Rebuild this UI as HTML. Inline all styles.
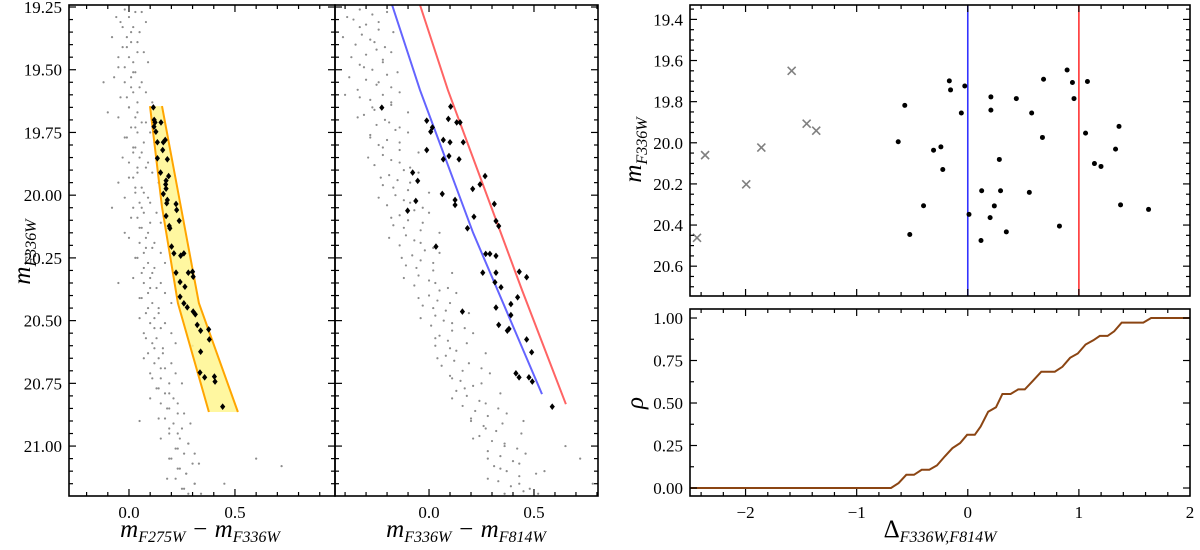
<!DOCTYPE html>
<html><head><meta charset="utf-8"><style>
body{margin:0;background:#fff}
svg{display:block}
svg text{font-family:"Liberation Serif","DejaVu Serif",serif}
</style></head><body>
<svg id="fig" width="1200" height="550" viewBox="0 0 1200 550" xmlns="http://www.w3.org/2000/svg" font-family="Liberation Serif, DejaVu Serif, serif">
<text transform="translate(30,252) rotate(-90)" text-anchor="middle" font-size="25" font-style="italic" font-family="Liberation Serif, serif">m<tspan font-size="16" dy="6">F336W</tspan></text>
<text x="200" y="537" text-anchor="middle" font-size="25" font-style="italic" font-family="Liberation Serif, serif">m<tspan font-size="16" dy="5">F275W</tspan><tspan dy="-5"> − m</tspan><tspan font-size="16" dy="5">F336W</tspan></text>
<text x="466" y="537" text-anchor="middle" font-size="25" font-style="italic" font-family="Liberation Serif, serif">m<tspan font-size="16" dy="5">F336W</tspan><tspan dy="-5"> − m</tspan><tspan font-size="16" dy="5">F814W</tspan></text>
<text transform="translate(641,150) rotate(-90)" text-anchor="middle" font-size="25" font-style="italic" font-family="Liberation Serif, serif">m<tspan font-size="16" dy="6">F336W</tspan></text>
<text transform="translate(643,403) rotate(-90)" text-anchor="middle" font-size="25" font-style="italic" font-family="Liberation Serif, serif">ρ</text>
<text x="940" y="537" text-anchor="middle" font-size="25" font-family="Liberation Serif, serif">Δ<tspan font-size="16" dy="5" font-style="italic">F336W,F814W</tspan></text>
</svg>
<script>
// ---- data ----
const bandLeftC=[0.099,0.156,0.231,0.377];
const bandLeftM=[19.645,20.047,20.43,20.864];
const bandRightC=[0.156,0.245,0.330,0.514];
const bandRightM=[19.645,20.047,20.43,20.864];
const p1StarC=[0.115,0.119,0.123,0.151,0.118,0.127,0.134,0.162,0.171,0.159,0.134,0.181,0.149,0.187,0.175,0.173,0.175,0.162,0.181,0.178,0.222,0.225,0.175,0.237,0.190,0.193,0.201,0.212,0.244,0.259,0.222,0.280,0.300,0.303,0.241,0.264,0.241,0.259,0.275,0.303,0.313,0.322,0.338,0.376,0.379,0.338,0.335,0.357,0.403,0.406,0.442];
const p1StarM=[19.650,19.700,19.710,19.710,19.727,19.747,19.789,19.789,19.780,19.820,19.853,19.857,19.910,19.924,19.942,19.957,19.974,19.995,20.019,20.032,20.035,20.059,20.083,20.102,20.123,20.132,20.205,20.232,20.241,20.232,20.309,20.309,20.305,20.325,20.346,20.365,20.405,20.431,20.447,20.464,20.475,20.517,20.540,20.535,20.575,20.624,20.707,20.726,20.723,20.743,20.843];
const p1GreyM=[19.26,19.27,19.29,19.31,19.33,19.35,19.37,19.39,19.41,19.43,19.45,19.47,19.49,19.51,19.53,19.55,19.57,19.59,19.61,19.63,19.65,19.67,19.69,19.71,19.73,19.75,19.77,19.79,19.81,19.83,19.85,19.87,19.89,19.91,19.93,19.95,19.97,19.99,20.01,20.03,20.05,20.07,20.09,20.11,20.13,20.15,20.17,20.19,20.21,20.23,20.25,20.27,20.29,20.31,20.33,20.35,20.37,20.39,20.41,20.43,20.45,20.47,20.49,20.51,20.53,20.55,20.57,20.59,20.61,20.63,20.65,20.67,20.69,20.71,20.73,20.75,20.77,20.79,20.81,20.83,20.85,20.87,20.89,20.91,20.93,20.95,20.97,20.99,21.01,21.03,21.05,21.07,21.09,21.11,21.13,21.15,21.17,21.19,19.55,20.05,20.6,21.05,21.08,20.9,21.15,20.35];
const p1GreyC=[-0.02,0.03,0.00,-0.04,0.02,0.05,-0.01,0.01,-0.03,0.04,0.00,0.02,-0.05,0.03,0.01,-0.02,0.05,0.02,-0.01,0.04,0.00,-0.10,0.03,0.06,0.01,0.04,-0.01,0.07,0.03,0.02,0.05,0.00,0.08,0.04,0.02,-0.05,0.06,0.03,0.09,0.05,0.02,0.07,0.04,0.10,0.06,-0.02,0.08,0.05,0.11,0.07,0.04,0.09,0.12,0.06,0.10,0.07,0.13,0.09,0.05,0.11,0.14,0.08,0.12,0.10,0.15,0.07,0.13,0.11,0.16,0.09,0.14,0.12,0.17,0.10,0.15,0.19,0.13,0.17,0.21,0.15,0.19,0.23,0.17,0.21,0.25,0.19,0.24,0.28,0.22,0.26,0.20,0.30,0.24,0.27,0.22,0.31,0.25,0.28,-0.12,-0.08,0.30,0.6,0.72,0.05,0.45,-0.05];
const extraGreyM=[19.27,19.29,19.31,19.33,19.35,19.37,19.39,19.41,19.43,19.45,19.47,19.49,19.51,19.53,19.55,19.57,19.59,19.61,19.63,19.65,19.67,19.69,19.71,19.73,19.75,19.77,19.79,19.81,19.83,19.85,19.87,19.89,19.91,19.93,19.95,19.97,19.99,20.01,20.03,20.05,20.07,20.09,20.11,20.13,20.15,20.17,20.19,20.21,20.23,20.25,20.27,20.29,20.31,20.33,20.35,20.37,20.39,20.41,20.43,20.45,20.47,20.49,20.51,20.53,20.55,20.57,20.59,20.61,20.63,20.65,20.67,20.69,20.71,20.73,20.75,20.77,20.79,20.81,20.83,20.85,20.87,20.89,20.91,20.93,20.95,20.97,20.99,21.01,21.03,21.05,21.07,21.09,21.11,21.13,21.15,21.17,21.19];
const p1Grey2C=[0.06,-0.06,0.08,-0.03,0.01,-0.08,0.04,-0.01,0.07,-0.05,0.09,-0.02,0.02,-0.07,0.06,0.01,0.08,-0.04,0.11,0.00,0.04,-0.05,0.08,0.03,0.10,-0.02,0.12,0.02,0.06,-0.03,0.09,0.04,0.11,0.00,0.14,0.03,0.07,-0.02,0.10,0.06,0.13,0.01,0.15,0.05,0.09,0.00,0.12,0.08,0.15,0.03,0.17,0.07,0.11,0.02,0.15,0.10,0.17,0.06,0.20,0.09,0.14,0.05,0.17,0.12,0.20,0.08,0.22,0.12,0.16,0.07,0.20,0.15,0.22,0.11,0.25,0.14,0.19,0.10,0.23,0.18,0.26,0.14,0.29,0.19,0.23,0.15,0.28,0.23,0.31,0.19,0.33,0.23,0.27,0.18,0.31,0.26,0.34];
const p2StarC=[-0.225,0.103,-0.011,0.092,0.132,0.148,0.016,0.008,0.068,0.100,0.163,-0.011,0.095,0.068,0.143,-0.078,-0.054,0.267,0.243,0.208,0.063,0.124,0.124,-0.063,-0.102,0.311,0.214,0.319,0.332,0.183,0.033,0.270,0.290,0.319,0.256,0.319,0.314,0.343,0.430,0.465,0.422,0.390,0.390,0.159,0.319,0.332,0.373,0.381,0.465,0.489,0.414,0.429,0.476,0.492,0.587];
const p2StarM=[19.651,19.647,19.703,19.696,19.710,19.710,19.730,19.747,19.780,19.789,19.789,19.820,19.844,19.857,19.857,19.910,19.943,19.924,19.957,19.975,19.995,20.019,20.039,20.023,20.062,20.035,20.086,20.103,20.123,20.132,20.205,20.234,20.234,20.242,20.309,20.309,20.347,20.367,20.305,20.327,20.407,20.434,20.478,20.464,20.448,20.517,20.540,20.533,20.575,20.626,20.710,20.726,20.726,20.743,20.843];
const p2GreyM=[19.26,19.28,19.30,19.32,19.34,19.36,19.38,19.40,19.42,19.44,19.46,19.48,19.50,19.52,19.54,19.56,19.58,19.60,19.62,19.64,19.66,19.68,19.70,19.72,19.74,19.76,19.78,19.80,19.82,19.84,19.86,19.88,19.90,19.92,19.94,19.96,19.98,20.00,20.02,20.04,20.06,20.08,20.10,20.12,20.14,20.16,20.18,20.20,20.22,20.24,20.26,20.28,20.30,20.32,20.34,20.36,20.38,20.40,20.42,20.44,20.46,20.48,20.50,20.52,20.54,20.56,20.58,20.60,20.62,20.64,20.66,20.68,20.70,20.72,20.74,20.76,20.78,20.80,20.82,20.84,20.86,20.88,20.90,20.92,20.94,20.96,20.98,21.00,21.02,21.04,21.06,21.08,21.10,21.12,21.14,21.16,21.18,21.19,21.0,21.05,21.1,20.3,19.6,20.9,21.15];
const p2GreyC=[-0.33,-0.27,-0.36,-0.30,-0.24,-0.32,-0.28,-0.35,-0.25,-0.30,-0.22,-0.33,-0.27,-0.20,-0.30,-0.25,-0.34,-0.22,-0.28,-0.18,-0.26,-0.31,-0.21,-0.25,-0.16,-0.28,-0.20,-0.24,-0.14,-0.22,-0.18,-0.26,-0.12,-0.19,-0.15,-0.22,-0.10,-0.16,-0.12,-0.20,-0.07,-0.14,-0.10,-0.17,-0.04,-0.11,-0.07,-0.14,-0.02,-0.08,-0.04,-0.11,0.02,-0.05,0.00,-0.07,0.05,0.00,0.04,-0.03,0.08,0.03,0.07,0.01,0.11,0.05,0.09,0.03,0.13,0.08,0.12,0.06,0.16,0.10,0.15,0.21,0.13,0.18,0.24,0.16,0.22,0.28,0.20,0.26,0.32,0.24,0.30,0.36,0.28,0.34,0.40,0.31,0.37,0.43,0.33,0.39,0.45,0.36,0.65,0.72,0.55,0.8,-0.40,0.45,0.78];
const p2Grey2C=[-0.20,-0.39,-0.24,-0.33,-0.17,-0.41,-0.26,-0.21,-0.18,-0.37,-0.22,-0.31,-0.15,-0.38,-0.24,-0.18,-0.14,-0.33,-0.18,-0.27,-0.10,-0.34,-0.19,-0.14,-0.10,-0.28,-0.14,-0.22,-0.05,-0.29,-0.14,-0.09,-0.05,-0.23,-0.09,-0.17,0.00,-0.24,-0.09,-0.03,0.00,-0.18,-0.03,-0.12,0.05,-0.19,-0.04,0.02,0.05,-0.13,0.02,-0.06,0.11,-0.12,0.03,0.09,0.13,-0.05,0.10,0.02,0.19,-0.04,0.11,0.17,0.21,0.03,0.18,0.10,0.27,0.04,0.19,0.25,0.29,0.11,0.25,0.17,0.34,0.11,0.27,0.33,0.37,0.20,0.35,0.27,0.44,0.21,0.36,0.42,0.46,0.28,0.43,0.34,0.51,0.28,0.43,0.48,0.52];
const blueLineC=[-0.176,-0.043,0.21,0.538];
const blueLineM=[19.242,19.581,20.15,20.793];
const redLineC=[-0.043,0.09,0.443,0.652];
const redLineM=[19.242,19.581,20.378,20.833];
const rejD=[-2.437,-2.364,-1.994,-1.858,-1.585,-1.450,-1.364];
const rejM=[20.462,20.060,20.202,20.023,19.650,19.907,19.941];
const selD=[-0.626,-0.567,-0.522,-0.398,-0.308,-0.242,-0.225,-0.166,-0.155,-0.058,-0.027,0.011,0.119,0.125,0.208,0.208,0.201,0.239,0.284,0.295,0.347,0.437,0.554,0.575,0.672,0.682,0.825,0.894,0.942,0.956,1.060,1.077,1.140,1.199,1.330,1.361,1.375,1.627];
const selM=[19.995,19.818,20.446,20.306,20.036,20.020,20.130,19.699,19.743,19.855,19.724,20.348,20.475,20.233,19.777,19.841,20.364,20.307,20.081,20.233,20.433,19.785,20.241,19.855,19.974,19.691,20.405,19.646,19.707,19.785,19.953,19.702,20.101,20.115,20.031,19.920,20.302,20.324];
const rhoD=[-2.5,-0.691,-0.623,-0.553,-0.484,-0.415,-0.346,-0.277,-0.207,-0.138,-0.069,-0.006,0.063,0.115,0.184,0.254,0.312,0.385,0.454,0.513,0.592,0.662,0.783,0.852,0.921,0.99,1.06,1.13,1.188,1.258,1.318,1.385,1.58,1.65,2.0];
const rhoV=[0,0,0.029,0.078,0.078,0.107,0.107,0.133,0.186,0.234,0.264,0.313,0.313,0.361,0.449,0.475,0.553,0.553,0.58,0.58,0.635,0.684,0.684,0.713,0.766,0.791,0.844,0.869,0.895,0.895,0.922,0.973,0.973,1.0,1.0];
const xTicks1=["0.0","0.5"];
const yTicksLeft=["19.25","19.50","19.75","20.00","20.25","20.50","20.75","21.00"];
const yTicksTR=["19.4","19.6","19.8","20.0","20.2","20.4","20.6"];
const yTicksRho=["0.00","0.25","0.50","0.75","1.00"];
const xTicksDelta=["−2","−1","0","1","2"];

// ---- drawing ----
const NS="http://www.w3.org/2000/svg";
const svg=document.getElementById('fig');
const FF="Liberation Serif, DejaVu Serif, serif";
function mk(tag,attrs,parent){const e=document.createElementNS(NS,tag);for(const k in attrs)e.setAttribute(k,attrs[k]);(parent||svg).appendChild(e);return e;}
function lin(d0,d1,p0,p1){return v=>p0+(v-d0)/(d1-d0)*(p1-p0);}
function ticks(g,X,Y,box,xmaj,xmin,ymaj,ymin,xr,yr){
  const [l,t,r,b]=box;
  const addT=(x1,y1,x2,y2)=>mk('line',{x1,y1,x2,y2,stroke:'#000','stroke-width':1.2},g);
  for(let v=Math.ceil(xr[0]/xmin-1e-6)*xmin;v<=xr[1]+1e-6;v+=xmin){const p=X(v);if(p<l+1||p>r-1)continue;const maj=Math.abs(v/xmaj-Math.round(v/xmaj))<1e-6;const L=maj?7:4;addT(p,b,p,b-L);addT(p,t,p,t+L);}
  for(let v=Math.ceil(yr[0]/ymin-1e-6)*ymin;v<=yr[1]+1e-6;v+=ymin){const p=Y(v);if(p<t+1||p>b-1)continue;const maj=Math.abs(v/ymaj-Math.round(v/ymaj))<1e-6;const L=maj?7:4;addT(l,p,l+L,p);addT(r,p,r-L,p);}
}
function path(xs,ys,X,Y){return xs.map((v,i)=>(i?'L':'M')+X(v).toFixed(1)+','+Y(ys[i]).toFixed(1)).join('');}
function label(g,x,y,s,anchor){const t=mk('text',{x,y,'text-anchor':anchor,'font-size':17,'font-family':FF},g);t.textContent=s;return t;}
function greyDots(cg,cs,ms,X,Y){cs.forEach((c,i)=>{const d=mk('circle',{cx:X(c),cy:Y(ms[i]),r:1.1,fill:'#8c8c8c'},cg);

});}

// Panel 1
{
const g=mk('g',{});


const X=lin(-0.283,0.972,69,335), Y=lin(19.242,21.199,5,496);
mk('defs',{},g).innerHTML='<clipPath id="c1"><rect x="69" y="5" width="266" height="491"/></clipPath>';
const cg=mk('g',{'clip-path':'url(#c1)'},g);
greyDots(cg,p1GreyC,p1GreyM,X,Y);
greyDots(cg,p1Grey2C,extraGreyM,X,Y);
const poly=bandLeftC.map((c,i)=>X(c)+','+Y(bandLeftM[i])).concat(bandRightC.map((c,i)=>X(c)+','+Y(bandRightM[i])).reverse()).join(' ');
const band=mk('polygon',{points:poly,fill:'#fff68f','fill-opacity':0.85,stroke:'none'},cg);


mk('path',{d:path(bandLeftC,bandLeftM,X,Y),stroke:'#ffa500','stroke-width':2,fill:'none'},cg);
mk('path',{d:path(bandRightC,bandRightM,X,Y),stroke:'#ffa500','stroke-width':2,fill:'none'},cg);
p1StarC.forEach((c,i)=>{const x=X(c),y=Y(p1StarM[i]);const d=mk('path',{d:`M${x},${y-3.3}L${x+2.6},${y}L${x},${y+3.3}L${x-2.6},${y}Z`,fill:'#000'},cg);

});
mk('rect',{x:69,y:5,width:266,height:491,fill:'none',stroke:'#000','stroke-width':1.6},g);
ticks(g,X,Y,[69,5,335,496],0.5,0.1,0.25,0.05,[-0.283,0.972],[19.242,21.199]);
xTicks1.forEach(s=>{const t=label(g,X(parseFloat(s)),518,s,'middle');

});
yTicksLeft.forEach(s=>{const t=label(g,62,Y(parseFloat(s))+6,s,'end');

});
}
// Panel 2
{
const g=mk('g',{});


const X=lin(-0.448,0.805,335,598), Y=lin(19.242,21.199,5,496);
mk('defs',{},g).innerHTML='<clipPath id="c2"><rect x="335" y="5" width="263" height="491"/></clipPath>';
const cg=mk('g',{'clip-path':'url(#c2)'},g);
greyDots(cg,p2GreyC,p2GreyM,X,Y);
greyDots(cg,p2Grey2C,extraGreyM,X,Y);
const bl=mk('path',{d:path(blueLineC,blueLineM,X,Y),stroke:'#6464ff','stroke-width':2,fill:'none'},cg);


const rl=mk('path',{d:path(redLineC,redLineM,X,Y),stroke:'#ff6464','stroke-width':2,fill:'none'},cg);


p2StarC.forEach((c,i)=>{const x=X(c),y=Y(p2StarM[i]);const d=mk('path',{d:`M${x},${y-3.3}L${x+2.6},${y}L${x},${y+3.3}L${x-2.6},${y}Z`,fill:'#000'},cg);

});
mk('rect',{x:335,y:5,width:263,height:491,fill:'none',stroke:'#000','stroke-width':1.6},g);
ticks(g,X,Y,[335,5,598,496],0.5,0.1,0.25,0.05,[-0.448,0.805],[19.242,21.199]);
xTicks1.forEach(s=>{const t=label(g,X(parseFloat(s)),518,s,'middle');

});
}
// Top right
const XD=lin(-2.5,2,690,1190);
{
const g=mk('g',{});


const Y=lin(19.33,20.745,5,296);
const vb=mk('line',{x1:XD(0),y1:5,x2:XD(0),y2:296,stroke:'#3333ff','stroke-width':1.6},g);


const vr=mk('line',{x1:XD(1),y1:5,x2:XD(1),y2:296,stroke:'#ff3333','stroke-width':1.6},g);


rejD.forEach((d,i)=>{const x=XD(d),y=Y(rejM[i]);const e=mk('path',{d:`M${x-4},${y-4}L${x+4},${y+4}M${x-4},${y+4}L${x+4},${y-4}`,stroke:'#808080','stroke-width':1.6},g);

});
selD.forEach((d,i)=>{const x=XD(d),y=Y(selM[i]);const e=mk('circle',{cx:x,cy:y,r:2.5,fill:'#000'},g);

});
mk('rect',{x:690,y:5,width:500,height:291,fill:'none',stroke:'#000','stroke-width':1.6},g);
ticks(g,XD,Y,[690,5,1190,296],1,0.2,0.2,0.05,[-2.5,2],[19.33,20.745]);
yTicksTR.forEach(s=>{const t=label(g,683,Y(parseFloat(s))+6,s,'end');

});
}
// Bottom right
{
const g=mk('g',{});


const Y=lin(-0.047,1.053,496,309);
const c=mk('path',{d:path(rhoD,rhoV,XD,Y),stroke:'#8b4513','stroke-width':2,fill:'none'},g);


mk('rect',{x:690,y:309,width:500,height:187,fill:'none',stroke:'#000','stroke-width':1.6},g);
ticks(g,XD,Y,[690,309,1190,496],1,0.2,0.25,0.125,[-2.5,2],[-0.047,1.053]);
yTicksRho.forEach(s=>{const t=label(g,683,Y(parseFloat(s))+6,s,'end');

});
xTicksDelta.forEach(s=>{const t=label(g,XD(parseFloat(s.replace('−','-'))),518,s,'middle');

});
}
</script>
</body></html>
